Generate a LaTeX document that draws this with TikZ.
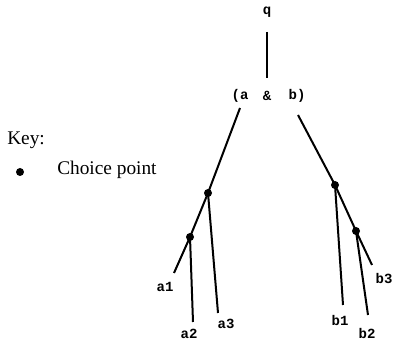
\documentclass[tikz,border=0pt]{standalone}
\usepackage{fontspec}
\setmainfont{Liberation Serif}
\setmonofont{Liberation Mono}
\usepackage{tikz}
\usetikzlibrary{positioning}
\tikzset{
  lbl/.style={font=\ttfamily\bfseries\fontsize{10.5}{11}\selectfont, inner sep=0pt},
  keytxt/.style={font=\fontsize{14.5}{16}\selectfont, inner sep=0pt, anchor=west},
  cpt/.style={circle, fill=black, minimum size=6pt, inner sep=0pt},
  br/.style={line width=1.5pt},
}

\begin{document}
\begin{tikzpicture}[x=0.75pt, y=-0.75pt]
  \useasboundingbox (0,0) rectangle (393,345);

  % root goal
  \node[lbl] (q) at (267,12) {q};
  \node[lbl] (pa) at (240,96) {(a};
  \node[lbl] (amp) at (267,96) {\&};
  \node[lbl] (pb) at (297,96) {b)};
  \draw[br] (267,32) -- (267,78);

  % choice points
  \node[cpt] (ca1) at (208,193) {};
  \node[cpt] (ca2) at (190,237) {};
  \node[cpt] (cb1) at (335,185) {};
  \node[cpt] (cb2) at (356,231) {};

  % leaf ends
  \coordinate (ta) at (240,108);
  \coordinate (tb) at (298,115);
  \coordinate (ea1) at (174,273);
  \coordinate (ea2) at (193,322);
  \coordinate (ea3) at (218,313);
  \coordinate (eb1) at (343,305);
  \coordinate (eb2) at (368,315);
  \coordinate (eb3) at (372,265);

  % left branch
  \draw[br] (ta) -- (ca1.center) -- (ca2.center) -- (ea1);
  \draw[br] (ca2.center) -- (ea2);
  \draw[br] (ca1.center) -- (ea3);

  % right branch
  \draw[br] (tb) -- (cb1.center) -- (cb2.center) -- (eb3);
  \draw[br] (cb1.center) -- (eb1);
  \draw[br] (cb2.center) -- (eb2);

  % leaf labels
  \node[lbl] (a1) at (165,287) {a1};
  \node[lbl] (a2) at (189,334) {a2};
  \node[lbl] (a3) at (226,324) {a3};
  \node[lbl] (b1) at (340,320) {b1};
  \node[lbl] (b2) at (367,333) {b2};
  \node[lbl] (b3) at (384,279) {b3};

  % key
  \node[keytxt] (key) at (7,140) {Key:};
  \node[cpt] (kdot) at (20,172) {};
  \node[keytxt] (ktxt) at (57,170) {Choice point};
\end{tikzpicture}
\end{document}
